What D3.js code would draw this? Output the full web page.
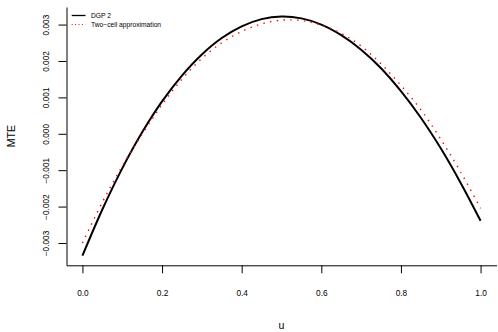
<!DOCTYPE html>
<html>
<head>
<meta charset="utf-8">
<script src="https://cdn.jsdelivr.net/npm/d3@7"></script>
<style>
  body { margin: 0; background: #fff; }
  svg { display: block; font-family: "Liberation Sans", Arial, sans-serif; }
</style>
</head>
<body>
<svg width="498" height="332"></svg>
<script>
const width = 498, height = 332;

// values, u = 0, 0.05, ..., 1
const uGrid = [0, 0.05, 0.1, 0.15, 0.2, 0.25, 0.3, 0.35, 0.4, 0.45, 0.5,
               0.55, 0.6, 0.65, 0.7, 0.75, 0.8, 0.85, 0.9, 0.95, 1];
const dgp2 = [-0.00335, -0.00208, -0.00095, 0.00004, 0.00089, 0.00160, 0.00218,
              0.00263, 0.00295, 0.00315, 0.00322, 0.00317, 0.00300, 0.00271,
              0.00231, 0.00180, 0.00117, 0.00044, -0.00040, -0.00135, -0.00239];
const twoCell = [-0.00300, -0.00188, -0.00089, -0.00001, 0.00080, 0.00150, 0.00207,
                 0.00250, 0.00281, 0.00302, 0.00312, 0.00311, 0.00299, 0.00276,
                 0.00241, 0.00192, 0.00133, 0.00066, -0.00015, -0.00105, -0.00205];
const xTicks = [0, 0.2, 0.4, 0.6, 0.8, 1.0];
const yTicks = [-0.003, -0.002, -0.001, 0, 0.001, 0.002, 0.003];
const legendLabels = ["DGP 2", "Two\u2212cell approximation"];

const plotLeft = 66.5, plotRight = 496.5, plotTop = 7, plotBottom = 265.3;

// R style 4% range extension
function extend(lo, hi) {
    const r = hi - lo;
    return [lo - 0.04 * r, hi + 0.04 * r];
}

const allY = dgp2.concat(twoCell);
const x = d3.scaleLinear().domain(extend(0, 1)).range([plotLeft, plotRight]);
const y = d3.scaleLinear().domain(extend(d3.min(allY), d3.max(allY))).range([plotBottom, plotTop]);

const svg = d3.select("svg");

// axes (bty = "l")
const gx = svg.append("g")
    .attr("transform", `translate(0,${plotBottom})`)
    .call(d3.axisBottom(x).tickValues(xTicks).tickSize(8).tickSizeOuter(0)
        .tickFormat(d3.format(".1f")));
gx.selectAll("text")
    .attr("y", 30.5).attr("dy", 0)
    .attr("font-size", 8.3).attr("fill", "#000");

const gy = svg.append("g")
    .attr("transform", `translate(${plotLeft},0)`)
    .call(d3.axisLeft(y).tickValues(yTicks).tickSize(8).tickSizeOuter(0)
        .tickFormat(d3.format(".3f")));
gy.selectAll("text")
    .attr("transform", "rotate(-90)")
    .attr("x", 0).attr("y", -18).attr("dy", 0)
    .attr("text-anchor", "middle")
    .attr("font-size", 8.3).attr("fill", "#000");

[gx, gy].forEach(g => {
    g.select(".domain").attr("stroke", "#000").attr("stroke-width", 1);
    g.selectAll(".tick line").attr("stroke", "#000");
});

// axis titles
svg.append("text")
    .attr("x", (plotLeft + plotRight) / 2).attr("y", 328.5)
    .attr("text-anchor", "middle").attr("font-size", 10.6)
    .text("u");
svg.append("text")
    .attr("transform", `translate(15,${(plotTop + plotBottom) / 2}) rotate(-90)`)
    .attr("text-anchor", "middle").attr("font-size", 10.6)
    .text("MTE");

// curves
const line = vals => d3.line()
    .x((d, i) => x(uGrid[i]))
    .y(d => y(d))
    .curve(d3.curveCatmullRom)(vals);

svg.append("path")
    .attr("d", line(dgp2))
    .attr("fill", "none")
    .attr("stroke", "#000")
    .attr("stroke-width", 2);

svg.append("path")
    .attr("d", line(twoCell))
    .attr("fill", "none")
    .attr("stroke", "#ff0000")
    .attr("stroke-width", 1.4)
    .attr("stroke-dasharray", "1.4,5.4");

// legend
const legend = svg.append("g");
const rows = [
    {label: legendLabels[0], color: "#000", width: 1.3, dash: null},
    {label: legendLabels[1], color: "#ff0000", width: 1, dash: "1,2.4"}
];
rows.forEach((r, i) => {
    const ly = 15.5 + i * 9;
    legend.append("line")
        .attr("x1", 71.7).attr("x2", 85.5)
        .attr("y1", ly).attr("y2", ly)
        .attr("stroke", r.color)
        .attr("stroke-width", r.width)
        .attr("stroke-dasharray", r.dash);
    legend.append("text")
        .attr("x", 91).attr("y", ly).attr("dy", "0.35em")
        .attr("font-size", 6.7)
        .text(r.label);
});
</script>
</body>
</html>
